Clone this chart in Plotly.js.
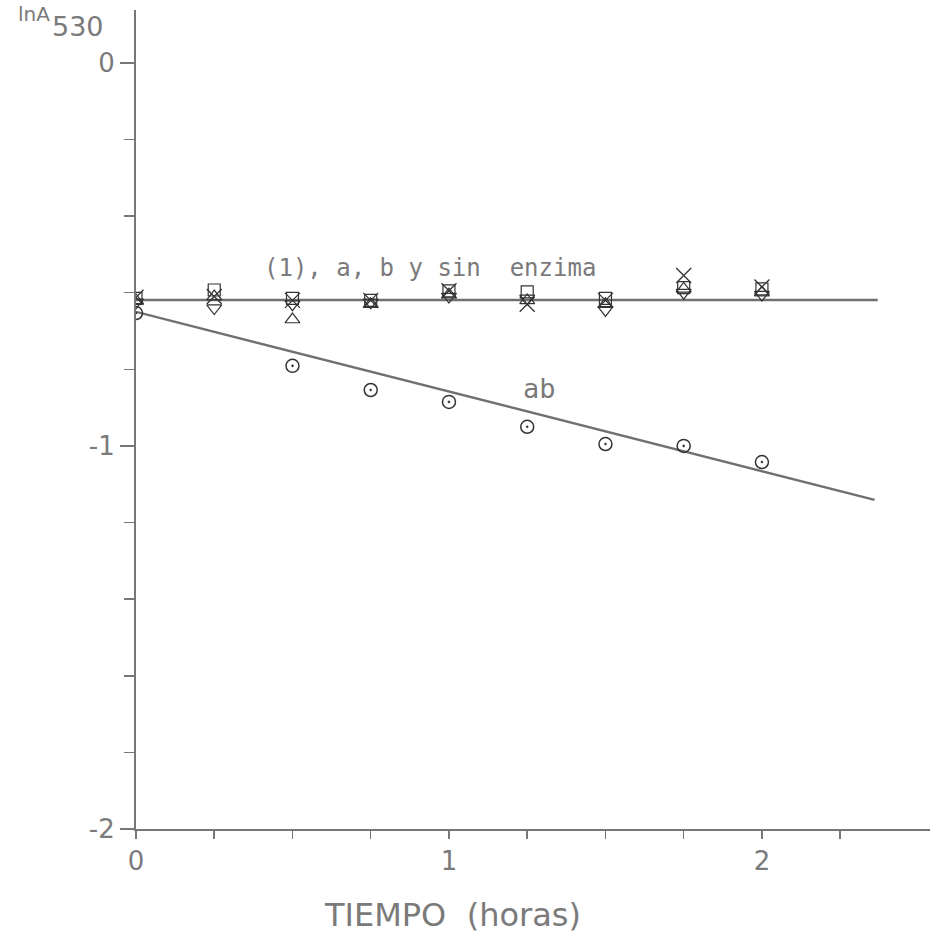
<!DOCTYPE html>
<html>
<head>
<meta charset="utf-8">
<script src="https://cdn.plot.ly/plotly-3.0.1.min.js"></script>
<style>html,body{margin:0;padding:0;background:#fff}#chart{width:930px;height:943px}</style>
</head>
<body>
<div id="chart"></div>
<script>
// Time points (hours)
const tiempo = [0, 0.25, 0.5, 0.75, 1, 1.25, 1.5, 1.75, 2];

// ln A530 values
const serieCuadrado = [-0.615, -0.593, -0.615, -0.620, -0.595, -0.598, -0.615, -0.587, -0.590];
const serieCruz     = [-0.612, -0.610, -0.620, -0.620, -0.595, -0.630, -0.620, -0.555, -0.585];
const serieTriArr   = [-0.620, -0.610, -0.670, -0.630, -0.605, -0.620, -0.630, -0.590, -0.600];
const serieTriAbj   = [-0.625, -0.640, -0.630, -0.625, -0.610, -0.615, -0.645, -0.600, -0.605];
const serieAB       = [-0.653, null, -0.791, -0.854, -0.885, -0.950, -0.995, -1.000, -1.042];

// Fitted lines (endpoints)
const ajusteX1 = [0, 2.37];
const ajusteY1 = [-0.619, -0.619];
const ajusteX2 = [0, 2.36];
const ajusteY2 = [-0.650, -1.141];

// Tick labels
const xTicks = [0, 1, 2];
const xTickText = ['0', '1', '2'];
const xMinorTicks = [0.25, 0.5, 0.75, 1.25, 1.5, 1.75, 2.25];
const yTicks = [0, -1, -2];
const yTickText = ['0', '-1', '-2'];
const yMinorTicks = [-0.2, -0.4, -0.6, -0.8, -1.2, -1.4, -1.6, -1.8];

const lineColor = '#707070';
const markColor = '#333';
const textColor = '#7a7a7a';

const traces = [
  {x: ajusteX1, y: ajusteY1, mode: 'lines', line: {color: lineColor, width: 2.4}, hoverinfo: 'skip'},
  {x: ajusteX2, y: ajusteY2, mode: 'lines', line: {color: lineColor, width: 2.4}, hoverinfo: 'skip'},
  {x: tiempo, y: serieCuadrado, mode: 'markers', marker: {symbol: 'square-open', size: 12, color: markColor, line: {width: 1.2}}},
  {x: tiempo, y: serieCruz, mode: 'markers', marker: {symbol: 'x-thin-open', size: 15, color: markColor, line: {width: 1.3, color: markColor}}},
  {x: tiempo, y: serieTriArr, mode: 'markers', marker: {symbol: 'triangle-up-open', size: 13, color: markColor, line: {width: 1.2}}},
  {x: tiempo, y: serieTriAbj, mode: 'markers', marker: {symbol: 'triangle-down-open', size: 13, color: markColor, line: {width: 1.2}}},
  {x: tiempo, y: serieAB, mode: 'markers', marker: {symbol: 'circle-open-dot', size: 13, color: markColor, line: {width: 1.5}}}
];

const layout = {
  width: 930, height: 943,
  margin: {l: 136, r: 0, t: 10, b: 114},
  paper_bgcolor: '#fff', plot_bgcolor: '#fff',
  showlegend: false,
  font: {family: 'DejaVu Sans', color: textColor},
  xaxis: {
    range: [0, 2.537], showgrid: false, zeroline: false,
    showline: true, linecolor: '#777', linewidth: 2,
    tickvals: xTicks, ticktext: xTickText,
    ticks: 'outside', ticklen: 8, tickcolor: '#777', tickwidth: 1.5,
    ticklabelstandoff: 0,
    tickfont: {size: 26, color: textColor, family: 'DejaVu Sans'},
    minor: {tickvals: xMinorTicks, ticks: 'outside', ticklen: 8, tickcolor: '#777', tickwidth: 1.5, showgrid: false}
  },
  yaxis: {
    range: [-2, 0.138], showgrid: false, zeroline: false,
    showline: true, linecolor: '#777', linewidth: 2,
    tickvals: yTicks, ticktext: yTickText,
    ticks: 'outside', ticklen: 14, tickcolor: '#777', tickwidth: 1.5,
    tickfont: {size: 26, color: textColor, family: 'DejaVu Sans'},
    minor: {tickvals: yMinorTicks, ticks: 'outside', ticklen: 10, tickcolor: '#777', tickwidth: 1.5, showgrid: false}
  },
  annotations: [
    {xref: 'paper', yref: 'paper', x: (34 - 136) / 794, y: (943 - 114 - 14) / 819, xanchor: 'center', yanchor: 'middle', showarrow: false,
     text: 'lnA', font: {size: 20, color: textColor, family: 'DejaVu Sans'}},
    {xref: 'paper', yref: 'paper', x: (78 - 136) / 794, y: (943 - 114 - 26) / 819, xanchor: 'center', yanchor: 'middle', showarrow: false,
     text: '530', font: {size: 27, color: textColor, family: 'DejaVu Sans'}},
    {x: 0.94, y: -0.535, xref: 'x', yref: 'y', showarrow: false,
     text: '(1), a, b y sin  enzima', font: {size: 24, color: textColor, family: 'DejaVu Sans Mono'}},
    {x: 1.29, y: -0.85, xref: 'x', yref: 'y', showarrow: false,
     text: 'ab', font: {size: 27, color: textColor, family: 'DejaVu Sans Mono'}},
    {xref: 'paper', yref: 'paper', x: (452 - 136) / 794, y: (829 - 915) / 819, xanchor: 'center', yanchor: 'middle', showarrow: false,
     text: 'TIEMPO  (horas)', font: {size: 32, color: textColor, family: 'DejaVu Sans'}}
  ]
};

Plotly.newPlot('chart', traces, layout, {displayModeBar: false, staticPlot: true});
</script>
</body>
</html>
